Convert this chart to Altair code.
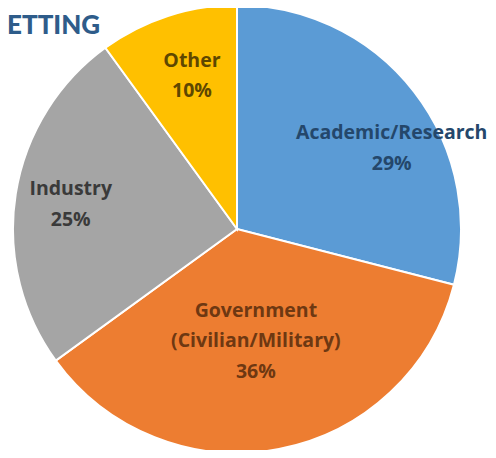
import altair as alt
import pandas as pd

# ---- data ----
categories = ["Academic/Research", "Government\n(Civilian/Military)", "Industry", "Other"]
values = [29, 36, 25, 10]
slice_colors = ["#5B9BD5", "#ED7D31", "#A5A5A5", "#FFC000"]
label_colors = ["#24476B", "#6E3812", "#3A3A3A", "#5E4700"]
title_text = "ETTING"

# ---- layout for labels (radius px, angular offset in degrees) ----
label_radius = [182, 84, 171, 174]
label_shift = [6.0, -2.2, 4.5, 3.0]

df = pd.DataFrame({
    "category": categories,
    "value": values,
    "idx": list(range(len(categories))),
    "label": [f"{c}\n{v}%" for c, v in zip(categories, values)],
    "lr": label_radius,
    "ls": label_shift,
})

W, H = 480, 442
CX, CY = 229, 221
R = 224

base = alt.Chart(df)

pie = base.mark_arc(outerRadius=R, stroke="white", strokeWidth=2).encode(
    theta=alt.Theta("value:Q", stack=True),
    order=alt.Order("idx:Q"),
    color=alt.Color("category:N", scale=alt.Scale(domain=categories, range=slice_colors), legend=None),
    x=alt.value(CX),
    y=alt.value(CY),
)

labels = base.transform_joinaggregate(
    total="sum(value)"
).transform_window(
    cum="sum(value)", sort=[alt.SortField("idx")], frame=[None, 0]
).transform_calculate(
    ang="2*PI*(datum.cum - datum.value/2)/datum.total + datum.ls*PI/180"
).mark_text(
    font="Open Sans", fontSize=19.5, fontWeight="bold", lineBreak="\n", lineHeight=30.5,
    align="center", baseline="middle",
).encode(
    theta=alt.Theta("ang:Q", scale=None),
    radius=alt.Radius("lr:Q", scale=None),
    text="label:N",
    color=alt.Color("category:N", scale=alt.Scale(domain=categories, range=label_colors), legend=None),
    x=alt.value(CX),
    y=alt.value(CY),
)

title = alt.Chart(pd.DataFrame({"t": [title_text]})).mark_text(
    font="Lato", fontSize=26, fontWeight=900, color="#2E5C8A", align="left", baseline="alphabetic"
).encode(text="t:N", x=alt.value(-1), y=alt.value(26))

chart = alt.layer(pie, labels, title).resolve_scale(color="independent").properties(
    width=W, height=H, padding=0, autosize=alt.AutoSizeParams(type="none")
).configure_view(stroke=None)

chart.save("out.html", embed_options={"renderer": "svg", "actions": False})
